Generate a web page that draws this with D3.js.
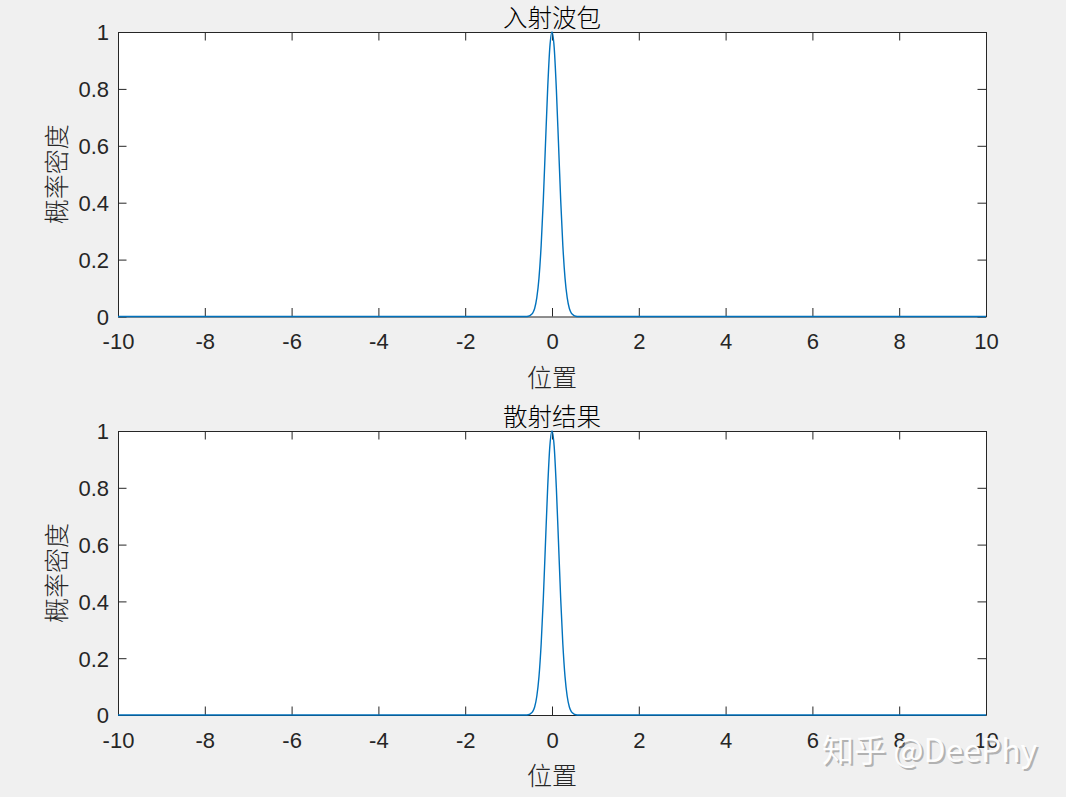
<!DOCTYPE html>
<html><head><meta charset="utf-8">
<script src="https://cdn.jsdelivr.net/npm/d3@7/dist/d3.min.js"></script>
<style>
html,body{margin:0;padding:0;background:#f0f0f0;}
svg{display:block;}
</style></head>
<body>
<svg id="c" width="1066" height="797"></svg>
<script>
// ---- data ----
const titles = ["入射波包", "散射结果"];
const xLabel = "位置";
const yLabel = "概率密度";
const xTicks = [-10, -8, -6, -4, -2, 0, 2, 4, 6, 8, 10];
const yTicks = [0, 0.2, 0.4, 0.6, 0.8, 1];
const xs = [-10, -0.6, -0.55, -0.5, -0.45, -0.4, -0.35, -0.3, -0.25, -0.2, -0.15, -0.1, -0.05, 0,
            0.05, 0.1, 0.15, 0.2, 0.25, 0.3, 0.35, 0.4, 0.45, 0.5, 0.55, 0.6, 10];
const incident = [0, 0, 0.001, 0.004, 0.011, 0.028, 0.066, 0.135, 0.249, 0.41, 0.607, 0.80, 0.946, 1,
                  0.946, 0.80, 0.607, 0.41, 0.249, 0.135, 0.066, 0.028, 0.011, 0.004, 0.001, 0, 0];
const scattered = [0, 0, 0.001, 0.004, 0.011, 0.028, 0.066, 0.135, 0.249, 0.41, 0.607, 0.80, 0.946, 1,
                   0.946, 0.80, 0.607, 0.41, 0.249, 0.135, 0.066, 0.028, 0.011, 0.004, 0.001, 0, 0];
const seriesList = [incident, scattered];
const watermark = "知乎 @DeePhy";

// ---- layout ----
const svg = d3.select("#c");
const axLeft = 118, axRight = 986;
const panels = [{top: 32, bottom: 316.5}, {top: 431, bottom: 715}];
const ink = "#262626";
const lineColor = "#0072BD";
const latin = "Arial, 'Liberation Sans', Helvetica, sans-serif";
const cjk = "'Noto Sans CJK SC', 'Noto Sans CJK JP', sans-serif";
const tickLen = 8.5;

const x = d3.scaleLinear().domain([-10, 10]).range([axLeft, axRight]);

panels.forEach((p, i) => {
  const y = d3.scaleLinear().domain([0, 1]).range([p.bottom, p.top]);
  const g = svg.append("g");

  g.append("rect").attr("x", axLeft).attr("y", p.top)
    .attr("width", axRight - axLeft).attr("height", p.bottom - p.top)
    .attr("fill", "#fff");

  const data = xs.map((v, k) => [v, seriesList[i][k]]);
  const lineGen = d3.line().x(d => x(d[0])).y(d => y(d[1])).curve(d3.curveMonotoneX);

  const bottomAx = g.append("g").attr("transform", `translate(0,${p.bottom})`)
    .call(d3.axisBottom(x).tickValues(xTicks).tickSizeInner(-tickLen).tickSizeOuter(0).tickFormat(d => String(d)));
  const topAx = g.append("g").attr("transform", `translate(0,${p.top})`)
    .call(d3.axisTop(x).tickValues(xTicks).tickSizeInner(-tickLen).tickSizeOuter(0).tickFormat(""));
  const leftAx = g.append("g").attr("transform", `translate(${axLeft},0)`)
    .call(d3.axisLeft(y).tickValues(yTicks).tickSizeInner(-tickLen).tickSizeOuter(0).tickPadding(9).tickFormat(d => String(d)));
  const rightAx = g.append("g").attr("transform", `translate(${axRight},0)`)
    .call(d3.axisRight(y).tickValues(yTicks).tickSizeInner(-tickLen).tickSizeOuter(0).tickFormat(""));

  [bottomAx, topAx, leftAx, rightAx].forEach(a => {
    a.select(".domain").attr("stroke", ink).attr("stroke-width", 1);
    a.selectAll(".tick line").attr("stroke", ink).attr("stroke-width", 1);
    a.selectAll(".tick text").attr("fill", ink).style("font-family", latin).style("font-size", "22px");
  });
  bottomAx.selectAll(".tick text").attr("dy", "0.71em").attr("y", 17);
  leftAx.selectAll(".tick text").attr("dy", "0.36em");

  g.append("path").datum(data)
    .attr("fill", "none").attr("stroke", lineColor).attr("stroke-width", 1.4)
    .attr("d", lineGen);

  g.append("text").attr("x", (axLeft + axRight) / 2).attr("y", p.top - 15.5)
    .attr("text-anchor", "middle").attr("dominant-baseline", "central")
    .attr("fill", "#000").style("font-family", cjk).style("font-size", "24.5px").style("font-weight", 300)
    .text(titles[i]);
  g.append("text").attr("x", (axLeft + axRight) / 2).attr("y", p.bottom + 59)
    .attr("text-anchor", "middle").attr("dominant-baseline", "central")
    .attr("fill", ink).style("font-family", cjk).style("font-size", "25px").style("font-weight", 300)
    .text(xLabel);
  const cy = (p.top + p.bottom) / 2;
  g.append("text").attr("transform", `translate(55,${cy}) rotate(-90)`)
    .attr("text-anchor", "middle").attr("dominant-baseline", "central")
    .attr("fill", ink).style("font-family", cjk).style("font-size", "25px").style("font-weight", 300)
    .text(yLabel);
});

// watermark
const wm = svg.append("g");
wm.append("text").attr("x", 822).attr("y", 748)
  .attr("dominant-baseline", "central")
  .attr("fill", "#8a8a8a").attr("opacity", 0.6)
  .attr("transform", "translate(2,2)")
  .style("font-family", cjk).style("font-size", "32px")
  .text(watermark);
wm.append("text").attr("x", 822).attr("y", 748)
  .attr("dominant-baseline", "central")
  .attr("fill", "#ffffff").attr("opacity", 0.95)
  .style("font-family", cjk).style("font-size", "32px")
  .text(watermark);
</script>
</body></html>
